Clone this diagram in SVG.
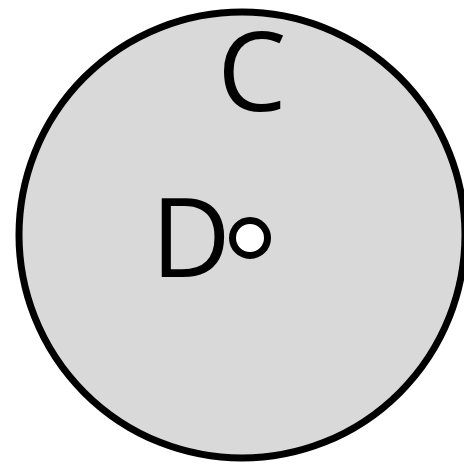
<svg xmlns="http://www.w3.org/2000/svg" width="464" height="469" viewBox="0 0 464 469">
<style>
.lbl{font-family:"Open Sans","Noto Sans",sans-serif;font-size:110px;fill:#000;text-anchor:middle}
</style>
<rect width="464" height="469" fill="#fff"/>
<g id="C">
<circle cx="242" cy="235" r="223" fill="#d9d9d9" stroke="#000" stroke-width="7"/>
<text class="lbl" x="252" y="111">C</text>
</g>
<g id="D">
<circle cx="250" cy="238" r="17.5" fill="#fff" stroke="#000" stroke-width="7"/>
<text class="lbl" x="191" y="277">D</text>
</g>
<g id="connectors"></g>
</svg>
